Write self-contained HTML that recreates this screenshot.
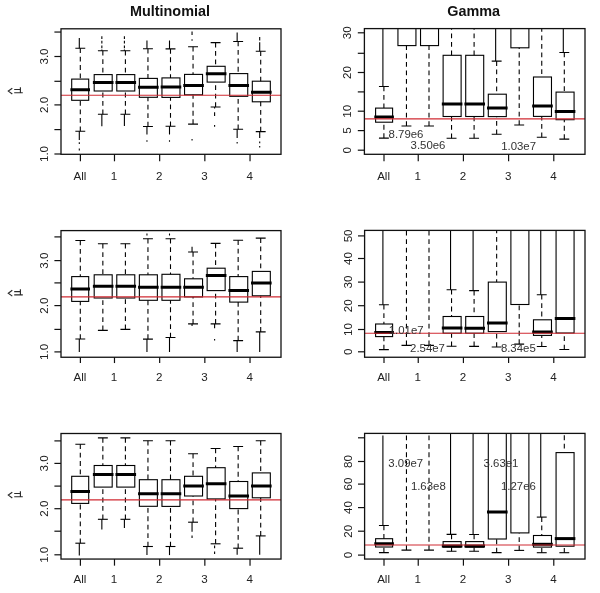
<!DOCTYPE html>
<html><head><meta charset="utf-8"><title>boxplots</title><style>
html,body{margin:0;padding:0;background:#fff;}
body{width:600px;height:593px;overflow:hidden;}
svg{display:block;will-change:transform;font-family:"Liberation Sans", sans-serif;}

.fr{fill:none;stroke:#111;stroke-width:1.3;}
.t{stroke:#111;stroke-width:1.2;}
.b{fill:none;stroke:#000;stroke-width:1.1;}
.m{stroke:#000;stroke-width:3;}
.k{stroke:#000;stroke-width:1.1;}
.w{stroke:#000;stroke-width:1.1;stroke-dasharray:4.8 3.65;}
.o{stroke:#000;stroke-width:1.1;}
.r{stroke:#d02a32;stroke-width:1.1;}
.yl{font-size:11.6px;fill:#222;text-anchor:middle;}
.xl{font-size:11.6px;fill:#222;text-anchor:middle;}
.an{font-size:11.4px;fill:#333;text-anchor:middle;}
.ti{font-size:14.4px;font-weight:bold;fill:#111;text-anchor:middle;}
.mu{font-size:12px;fill:#222;text-anchor:middle;}
.hat{fill:none;stroke:#2a2a2a;stroke-width:1.15;}
</style></head><body>
<svg width="600" height="593" viewBox="0 0 600 593"><defs><clipPath id="c0"><rect x="61" y="28.8" width="220" height="125.5"/></clipPath><clipPath id="c1"><rect x="364.4" y="28.6" width="220.6" height="125.7"/></clipPath><clipPath id="c2"><rect x="61" y="230.6" width="220" height="126.65"/></clipPath><clipPath id="c3"><rect x="364.6" y="230.4" width="220.4" height="126.85"/></clipPath><clipPath id="c4"><rect x="61" y="433.5" width="220" height="125.55"/></clipPath><clipPath id="c5"><rect x="364.6" y="433.4" width="220.4" height="125.65"/></clipPath></defs>
<g clip-path="url(#c0)"><line x1="79.3" y1="38.1" x2="79.3" y2="48.2" class="o"/><line x1="79.3" y1="131.2" x2="79.3" y2="140.1" class="o"/><line x1="79.3" y1="142.2" x2="79.3" y2="144" class="o"/><line x1="79.3" y1="148.6" x2="79.3" y2="150.4" class="o"/><line x1="80.3" y1="48.2" x2="80.3" y2="79.1" class="w"/><line x1="80.3" y1="131.2" x2="80.3" y2="100.3" class="w"/><line x1="75.35" y1="48.2" x2="85.25" y2="48.2" class="k"/><line x1="75.35" y1="131.2" x2="85.25" y2="131.2" class="k"/><rect x="71.7" y="79.1" width="17" height="21.2" class="b"/><line x1="70.4" y1="89.8" x2="90" y2="89.8" class="m"/><line x1="101.85" y1="36.3" x2="101.85" y2="39" class="o"/><line x1="101.85" y1="40.8" x2="101.85" y2="43.6" class="o"/><line x1="101.85" y1="45.4" x2="101.85" y2="48.2" class="o"/><line x1="101.85" y1="49.5" x2="101.85" y2="50.8" class="o"/><line x1="101.85" y1="114.3" x2="101.85" y2="126.3" class="o"/><line x1="102.85" y1="50.8" x2="102.85" y2="74.6" class="w"/><line x1="102.85" y1="114.3" x2="102.85" y2="91" class="w"/><line x1="97.9" y1="50.8" x2="107.8" y2="50.8" class="k"/><line x1="97.9" y1="114.3" x2="107.8" y2="114.3" class="k"/><rect x="94.19" y="74.6" width="18" height="16.4" class="b"/><line x1="92.89" y1="82.4" x2="113.49" y2="82.4" class="m"/><line x1="124.4" y1="36.3" x2="124.4" y2="39" class="o"/><line x1="124.4" y1="40.8" x2="124.4" y2="43.6" class="o"/><line x1="124.4" y1="45.4" x2="124.4" y2="48.2" class="o"/><line x1="124.4" y1="49.5" x2="124.4" y2="50.8" class="o"/><line x1="124.4" y1="114.3" x2="124.4" y2="126" class="o"/><line x1="125.4" y1="50.8" x2="125.4" y2="74.6" class="w"/><line x1="125.4" y1="114.3" x2="125.4" y2="91" class="w"/><line x1="120.45" y1="50.8" x2="130.35" y2="50.8" class="k"/><line x1="120.45" y1="114.3" x2="130.35" y2="114.3" class="k"/><rect x="116.78" y="74.6" width="18" height="16.4" class="b"/><line x1="115.48" y1="82.4" x2="136.08" y2="82.4" class="m"/><line x1="146.95" y1="40.5" x2="146.95" y2="48.7" class="o"/><line x1="146.95" y1="126.5" x2="146.95" y2="134.6" class="o"/><line x1="146.95" y1="140.2" x2="146.95" y2="141.8" class="o"/><line x1="147.95" y1="48.7" x2="147.95" y2="78.4" class="w"/><line x1="147.95" y1="126.5" x2="147.95" y2="97.3" class="w"/><line x1="143" y1="48.7" x2="152.9" y2="48.7" class="k"/><line x1="143" y1="126.5" x2="152.9" y2="126.5" class="k"/><rect x="139.37" y="78.4" width="18" height="18.9" class="b"/><line x1="138.07" y1="87.2" x2="158.67" y2="87.2" class="m"/><line x1="169.5" y1="40.5" x2="169.5" y2="48.9" class="o"/><line x1="169.5" y1="126.2" x2="169.5" y2="134.6" class="o"/><line x1="169.5" y1="140.2" x2="169.5" y2="141.8" class="o"/><line x1="170.5" y1="48.9" x2="170.5" y2="77.9" class="w"/><line x1="170.5" y1="126.2" x2="170.5" y2="97.4" class="w"/><line x1="165.55" y1="48.9" x2="175.45" y2="48.9" class="k"/><line x1="165.55" y1="126.2" x2="175.45" y2="126.2" class="k"/><rect x="161.96" y="77.9" width="18" height="19.5" class="b"/><line x1="160.66" y1="87.1" x2="181.26" y2="87.1" class="m"/><line x1="192.05" y1="31.5" x2="192.05" y2="35.1" class="o"/><line x1="192.05" y1="39.2" x2="192.05" y2="40.8" class="o"/><line x1="192.05" y1="139" x2="192.05" y2="140.6" class="o"/><line x1="193.05" y1="46.8" x2="193.05" y2="74.4" class="w"/><line x1="193.05" y1="124.1" x2="193.05" y2="94.8" class="w"/><line x1="188.1" y1="46.8" x2="198" y2="46.8" class="k"/><line x1="188.1" y1="124.1" x2="198" y2="124.1" class="k"/><rect x="184.55" y="74.4" width="18" height="20.4" class="b"/><line x1="183.25" y1="85.4" x2="203.85" y2="85.4" class="m"/><line x1="214.6" y1="107" x2="214.6" y2="108.5" class="o"/><line x1="214.6" y1="112.2" x2="214.6" y2="115.9" class="o"/><line x1="214.6" y1="125" x2="214.6" y2="126.7" class="o"/><line x1="215.6" y1="42.6" x2="215.6" y2="66.3" class="w"/><line x1="215.6" y1="107" x2="215.6" y2="82.1" class="w"/><line x1="210.65" y1="42.6" x2="220.55" y2="42.6" class="k"/><line x1="210.65" y1="107" x2="220.55" y2="107" class="k"/><rect x="207.14" y="66.3" width="18" height="15.8" class="b"/><line x1="205.84" y1="73.7" x2="226.44" y2="73.7" class="m"/><line x1="237.15" y1="32.4" x2="237.15" y2="41.5" class="o"/><line x1="237.15" y1="129.2" x2="237.15" y2="138" class="o"/><line x1="237.15" y1="142" x2="237.15" y2="143.6" class="o"/><line x1="238.15" y1="41.5" x2="238.15" y2="73.6" class="w"/><line x1="238.15" y1="129.2" x2="238.15" y2="96.3" class="w"/><line x1="233.2" y1="41.5" x2="243.1" y2="41.5" class="k"/><line x1="233.2" y1="129.2" x2="243.1" y2="129.2" class="k"/><rect x="229.73" y="73.6" width="18" height="22.7" class="b"/><line x1="228.43" y1="85.4" x2="249.03" y2="85.4" class="m"/><line x1="259.7" y1="37" x2="259.7" y2="40.5" class="o"/><line x1="259.7" y1="42.3" x2="259.7" y2="51.3" class="o"/><line x1="259.7" y1="131.6" x2="259.7" y2="138" class="o"/><line x1="259.7" y1="141.6" x2="259.7" y2="143.2" class="o"/><line x1="259.7" y1="146" x2="259.7" y2="147.6" class="o"/><line x1="260.7" y1="51.3" x2="260.7" y2="81.2" class="w"/><line x1="260.7" y1="131.6" x2="260.7" y2="101.8" class="w"/><line x1="255.75" y1="51.3" x2="265.65" y2="51.3" class="k"/><line x1="255.75" y1="131.6" x2="265.65" y2="131.6" class="k"/><rect x="252.32" y="81.2" width="18" height="20.6" class="b"/><line x1="251.02" y1="92.2" x2="271.62" y2="92.2" class="m"/></g>
<line x1="61" y1="95.2" x2="281" y2="95.2" class="r"/>
<rect x="61" y="28.8" width="220" height="125.5" class="fr"/>
<line x1="54.4" y1="154" x2="61" y2="154" class="t"/>
<text transform="translate(48 154) rotate(-90)" class="yl">1.0</text>
<line x1="54.4" y1="129.6" x2="61" y2="129.6" class="t"/>
<line x1="54.4" y1="104.9" x2="61" y2="104.9" class="t"/>
<text transform="translate(48 104.9) rotate(-90)" class="yl">2.0</text>
<line x1="54.4" y1="81.3" x2="61" y2="81.3" class="t"/>
<line x1="54.4" y1="56.5" x2="61" y2="56.5" class="t"/>
<text transform="translate(48 56.5) rotate(-90)" class="yl">3.0</text>
<line x1="54.4" y1="32.05" x2="61" y2="32.05" class="t"/>
<line x1="80.4" y1="154.3" x2="80.4" y2="161.3" class="t"/>
<text x="80" y="179.8" class="xl">All</text>
<line x1="114.48" y1="154.3" x2="114.48" y2="161.3" class="t"/>
<text x="114.08" y="179.8" class="xl">1</text>
<line x1="159.66" y1="154.3" x2="159.66" y2="161.3" class="t"/>
<text x="159.26" y="179.8" class="xl">2</text>
<line x1="204.84" y1="154.3" x2="204.84" y2="161.3" class="t"/>
<text x="204.44" y="179.8" class="xl">3</text>
<line x1="250.03" y1="154.3" x2="250.03" y2="161.3" class="t"/>
<text x="249.62" y="179.8" class="xl">4</text>
<text x="170" y="16.2" class="ti">Multinomial</text>
<g clip-path="url(#c1)"><line x1="382.9" y1="8.6" x2="382.9" y2="86.5" class="o"/><line x1="383.9" y1="86.5" x2="383.9" y2="108.1" class="w"/><line x1="383.9" y1="138.1" x2="383.9" y2="122.2" class="w"/><line x1="378.95" y1="86.5" x2="388.85" y2="86.5" class="k"/><line x1="378.95" y1="138.1" x2="388.85" y2="138.1" class="k"/><rect x="375.6" y="108.1" width="17" height="14.1" class="b"/><line x1="374.3" y1="116.9" x2="393.9" y2="116.9" class="m"/><line x1="406.45" y1="126" x2="406.45" y2="45.6" class="w"/><line x1="401.5" y1="126" x2="411.4" y2="126" class="k"/><rect x="397.94" y="8.6" width="18" height="37" class="b"/><line x1="429" y1="126" x2="429" y2="45.6" class="w"/><line x1="424.05" y1="126" x2="433.95" y2="126" class="k"/><rect x="420.53" y="8.6" width="18" height="37" class="b"/><line x1="451.55" y1="16.6" x2="451.55" y2="55.3" class="w"/><line x1="451.55" y1="138.2" x2="451.55" y2="116.5" class="w"/><line x1="446.6" y1="138.2" x2="456.5" y2="138.2" class="k"/><rect x="443.12" y="55.3" width="18" height="61.2" class="b"/><line x1="441.82" y1="104" x2="462.42" y2="104" class="m"/><line x1="474.1" y1="16.6" x2="474.1" y2="55.3" class="w"/><line x1="474.1" y1="138.2" x2="474.1" y2="116.5" class="w"/><line x1="469.15" y1="138.2" x2="479.05" y2="138.2" class="k"/><rect x="465.71" y="55.3" width="18" height="61.2" class="b"/><line x1="464.41" y1="104" x2="485.01" y2="104" class="m"/><line x1="495.65" y1="8.6" x2="495.65" y2="61.1" class="o"/><line x1="496.65" y1="61.1" x2="496.65" y2="94.2" class="w"/><line x1="496.65" y1="134.2" x2="496.65" y2="116.6" class="w"/><line x1="491.7" y1="61.1" x2="501.6" y2="61.1" class="k"/><line x1="491.7" y1="134.2" x2="501.6" y2="134.2" class="k"/><rect x="488.3" y="94.2" width="18" height="22.4" class="b"/><line x1="487" y1="108.1" x2="507.6" y2="108.1" class="m"/><line x1="519.2" y1="125" x2="519.2" y2="47.8" class="w"/><line x1="514.25" y1="125" x2="524.15" y2="125" class="k"/><rect x="510.89" y="8.6" width="18" height="39.2" class="b"/><line x1="541.75" y1="18.6" x2="541.75" y2="77" class="w"/><line x1="541.75" y1="137.3" x2="541.75" y2="116.4" class="w"/><line x1="536.8" y1="137.3" x2="546.7" y2="137.3" class="k"/><rect x="533.48" y="77" width="18" height="39.4" class="b"/><line x1="532.18" y1="106" x2="552.78" y2="106" class="m"/><line x1="563.3" y1="8.6" x2="563.3" y2="52.5" class="o"/><line x1="564.3" y1="52.5" x2="564.3" y2="92.1" class="w"/><line x1="564.3" y1="139.1" x2="564.3" y2="119.7" class="w"/><line x1="559.35" y1="52.5" x2="569.25" y2="52.5" class="k"/><line x1="559.35" y1="139.1" x2="569.25" y2="139.1" class="k"/><rect x="556.07" y="92.1" width="18" height="27.6" class="b"/><line x1="554.77" y1="111.5" x2="575.37" y2="111.5" class="m"/></g>
<line x1="364.4" y1="118.9" x2="585" y2="118.9" class="r"/>
<rect x="364.4" y="28.6" width="220.6" height="125.7" class="fr"/>
<line x1="357.8" y1="150.2" x2="364.4" y2="150.2" class="t"/>
<text transform="translate(351.4 150.2) rotate(-90)" class="yl">0</text>
<line x1="357.8" y1="130.6" x2="364.4" y2="130.6" class="t"/>
<text transform="translate(351.4 130.6) rotate(-90)" class="yl">5</text>
<line x1="357.8" y1="111.2" x2="364.4" y2="111.2" class="t"/>
<text transform="translate(351.4 111.2) rotate(-90)" class="yl">10</text>
<line x1="357.8" y1="91.9" x2="364.4" y2="91.9" class="t"/>
<line x1="357.8" y1="72.5" x2="364.4" y2="72.5" class="t"/>
<text transform="translate(351.4 72.5) rotate(-90)" class="yl">20</text>
<line x1="357.8" y1="53.3" x2="364.4" y2="53.3" class="t"/>
<line x1="357.8" y1="32.8" x2="364.4" y2="32.8" class="t"/>
<text transform="translate(351.4 32.8) rotate(-90)" class="yl">30</text>
<line x1="384" y1="154.3" x2="384" y2="161.3" class="t"/>
<text x="383.6" y="179.8" class="xl">All</text>
<line x1="418.24" y1="154.3" x2="418.24" y2="161.3" class="t"/>
<text x="417.84" y="179.8" class="xl">1</text>
<line x1="463.42" y1="154.3" x2="463.42" y2="161.3" class="t"/>
<text x="463.02" y="179.8" class="xl">2</text>
<line x1="508.6" y1="154.3" x2="508.6" y2="161.3" class="t"/>
<text x="508.2" y="179.8" class="xl">3</text>
<line x1="553.78" y1="154.3" x2="553.78" y2="161.3" class="t"/>
<text x="553.38" y="179.8" class="xl">4</text>
<text x="406" y="137.75" class="an">8.79e6</text>
<text x="428" y="149.3" class="an">3.50e6</text>
<text x="518.6" y="150" class="an">1.03e7</text>
<text x="473.7" y="16.2" class="ti">Gamma</text>
<g clip-path="url(#c2)"><line x1="79.3" y1="339" x2="79.3" y2="352" class="o"/><line x1="80.3" y1="240.5" x2="80.3" y2="276.6" class="w"/><line x1="80.3" y1="339" x2="80.3" y2="301.4" class="w"/><line x1="75.35" y1="240.5" x2="85.25" y2="240.5" class="k"/><line x1="75.35" y1="339" x2="85.25" y2="339" class="k"/><rect x="71.7" y="276.6" width="17" height="24.8" class="b"/><line x1="70.4" y1="289" x2="90" y2="289" class="m"/><line x1="102.85" y1="243.8" x2="102.85" y2="274.8" class="w"/><line x1="102.85" y1="330.4" x2="102.85" y2="298" class="w"/><line x1="97.9" y1="243.8" x2="107.8" y2="243.8" class="k"/><line x1="97.9" y1="330.4" x2="107.8" y2="330.4" class="k"/><rect x="94.19" y="274.8" width="18" height="23.2" class="b"/><line x1="92.89" y1="286.3" x2="113.49" y2="286.3" class="m"/><line x1="125.4" y1="243.8" x2="125.4" y2="274.8" class="w"/><line x1="125.4" y1="329.4" x2="125.4" y2="298" class="w"/><line x1="120.45" y1="243.8" x2="130.35" y2="243.8" class="k"/><line x1="120.45" y1="329.4" x2="130.35" y2="329.4" class="k"/><rect x="116.78" y="274.8" width="18" height="23.2" class="b"/><line x1="115.48" y1="286.3" x2="136.08" y2="286.3" class="m"/><line x1="146.95" y1="233.5" x2="146.95" y2="235.6" class="o"/><line x1="146.95" y1="339.1" x2="146.95" y2="352" class="o"/><line x1="147.95" y1="238.8" x2="147.95" y2="274.8" class="w"/><line x1="147.95" y1="339.1" x2="147.95" y2="300.3" class="w"/><line x1="143" y1="238.8" x2="152.9" y2="238.8" class="k"/><line x1="143" y1="339.1" x2="152.9" y2="339.1" class="k"/><rect x="139.37" y="274.8" width="18" height="25.5" class="b"/><line x1="138.07" y1="287.2" x2="158.67" y2="287.2" class="m"/><line x1="169.5" y1="233.5" x2="169.5" y2="235.6" class="o"/><line x1="169.5" y1="337.5" x2="169.5" y2="352" class="o"/><line x1="170.5" y1="238.8" x2="170.5" y2="274.3" class="w"/><line x1="170.5" y1="337.5" x2="170.5" y2="300.3" class="w"/><line x1="165.55" y1="238.8" x2="175.45" y2="238.8" class="k"/><line x1="165.55" y1="337.5" x2="175.45" y2="337.5" class="k"/><rect x="161.96" y="274.3" width="18" height="26" class="b"/><line x1="160.66" y1="287.2" x2="181.26" y2="287.2" class="m"/><line x1="192.05" y1="246.8" x2="192.05" y2="252" class="o"/><line x1="192.05" y1="323.9" x2="192.05" y2="326" class="o"/><line x1="193.05" y1="252" x2="193.05" y2="278.8" class="w"/><line x1="193.05" y1="323.9" x2="193.05" y2="296.9" class="w"/><line x1="188.1" y1="252" x2="198" y2="252" class="k"/><line x1="188.1" y1="323.9" x2="198" y2="323.9" class="k"/><rect x="184.55" y="278.8" width="18" height="18.1" class="b"/><line x1="183.25" y1="287.2" x2="203.85" y2="287.2" class="m"/><line x1="214.6" y1="323.9" x2="214.6" y2="328.2" class="o"/><line x1="214.6" y1="338.9" x2="214.6" y2="340.5" class="o"/><line x1="215.6" y1="243.4" x2="215.6" y2="268.2" class="w"/><line x1="215.6" y1="323.9" x2="215.6" y2="290.6" class="w"/><line x1="210.65" y1="243.4" x2="220.55" y2="243.4" class="k"/><line x1="210.65" y1="323.9" x2="220.55" y2="323.9" class="k"/><rect x="207.14" y="268.2" width="18" height="22.4" class="b"/><line x1="205.84" y1="275.4" x2="226.44" y2="275.4" class="m"/><line x1="237.15" y1="340.6" x2="237.15" y2="351.9" class="o"/><line x1="238.15" y1="240.2" x2="238.15" y2="276.6" class="w"/><line x1="238.15" y1="340.6" x2="238.15" y2="302.1" class="w"/><line x1="233.2" y1="240.2" x2="243.1" y2="240.2" class="k"/><line x1="233.2" y1="340.6" x2="243.1" y2="340.6" class="k"/><rect x="229.73" y="276.6" width="18" height="25.5" class="b"/><line x1="228.43" y1="290.6" x2="249.03" y2="290.6" class="m"/><line x1="259.7" y1="331.9" x2="259.7" y2="351.9" class="o"/><line x1="260.7" y1="238.1" x2="260.7" y2="271.4" class="w"/><line x1="260.7" y1="331.9" x2="260.7" y2="295.8" class="w"/><line x1="255.75" y1="238.1" x2="265.65" y2="238.1" class="k"/><line x1="255.75" y1="331.9" x2="265.65" y2="331.9" class="k"/><rect x="252.32" y="271.4" width="18" height="24.4" class="b"/><line x1="251.02" y1="282.9" x2="271.62" y2="282.9" class="m"/></g>
<line x1="61" y1="296.9" x2="281" y2="296.9" class="r"/>
<rect x="61" y="230.6" width="220" height="126.65" class="fr"/>
<line x1="54.4" y1="351.9" x2="61" y2="351.9" class="t"/>
<text transform="translate(48 351.9) rotate(-90)" class="yl">1.0</text>
<line x1="54.4" y1="329.4" x2="61" y2="329.4" class="t"/>
<line x1="54.4" y1="305.6" x2="61" y2="305.6" class="t"/>
<text transform="translate(48 305.6) rotate(-90)" class="yl">2.0</text>
<line x1="54.4" y1="282.9" x2="61" y2="282.9" class="t"/>
<line x1="54.4" y1="260.6" x2="61" y2="260.6" class="t"/>
<text transform="translate(48 260.6) rotate(-90)" class="yl">3.0</text>
<line x1="54.4" y1="236.9" x2="61" y2="236.9" class="t"/>
<line x1="80.4" y1="357.25" x2="80.4" y2="363.05" class="t"/>
<text x="80" y="381.1" class="xl">All</text>
<line x1="114.48" y1="357.25" x2="114.48" y2="363.05" class="t"/>
<text x="114.08" y="381.1" class="xl">1</text>
<line x1="159.66" y1="357.25" x2="159.66" y2="363.05" class="t"/>
<text x="159.26" y="381.1" class="xl">2</text>
<line x1="204.84" y1="357.25" x2="204.84" y2="363.05" class="t"/>
<text x="204.44" y="381.1" class="xl">3</text>
<line x1="250.03" y1="357.25" x2="250.03" y2="363.05" class="t"/>
<text x="249.62" y="381.1" class="xl">4</text>
<g clip-path="url(#c3)"><line x1="382.9" y1="210.4" x2="382.9" y2="304.8" class="o"/><line x1="383.9" y1="304.8" x2="383.9" y2="324" class="w"/><line x1="383.9" y1="349.6" x2="383.9" y2="336.6" class="w"/><line x1="378.95" y1="304.8" x2="388.85" y2="304.8" class="k"/><line x1="378.95" y1="349.6" x2="388.85" y2="349.6" class="k"/><rect x="375.6" y="324" width="17" height="12.6" class="b"/><line x1="374.3" y1="332.5" x2="393.9" y2="332.5" class="m"/><line x1="406.45" y1="345.4" x2="406.45" y2="210.4" class="w"/><line x1="401.5" y1="345.4" x2="411.4" y2="345.4" class="k"/><line x1="429" y1="345.4" x2="429" y2="210.4" class="w"/><line x1="424.05" y1="345.4" x2="433.95" y2="345.4" class="k"/><line x1="450.55" y1="210.4" x2="450.55" y2="289.7" class="o"/><line x1="451.55" y1="289.7" x2="451.55" y2="316.5" class="w"/><line x1="451.55" y1="346.3" x2="451.55" y2="333.2" class="w"/><line x1="446.6" y1="289.7" x2="456.5" y2="289.7" class="k"/><line x1="446.6" y1="346.3" x2="456.5" y2="346.3" class="k"/><rect x="443.12" y="316.5" width="18" height="16.7" class="b"/><line x1="441.82" y1="328.1" x2="462.42" y2="328.1" class="m"/><line x1="473.1" y1="210.4" x2="473.1" y2="290.6" class="o"/><line x1="474.1" y1="290.6" x2="474.1" y2="316.5" class="w"/><line x1="474.1" y1="346.4" x2="474.1" y2="333.2" class="w"/><line x1="469.15" y1="290.6" x2="479.05" y2="290.6" class="k"/><line x1="469.15" y1="346.4" x2="479.05" y2="346.4" class="k"/><rect x="465.71" y="316.5" width="18" height="16.7" class="b"/><line x1="464.41" y1="328.3" x2="485.01" y2="328.3" class="m"/><line x1="496.65" y1="220" x2="496.65" y2="282.1" class="w"/><line x1="496.65" y1="347" x2="496.65" y2="331.6" class="w"/><line x1="491.7" y1="347" x2="501.6" y2="347" class="k"/><rect x="488.3" y="282.1" width="18" height="49.5" class="b"/><line x1="487" y1="322.9" x2="507.6" y2="322.9" class="m"/><line x1="519.2" y1="344.1" x2="519.2" y2="304.5" class="w"/><line x1="514.25" y1="344.1" x2="524.15" y2="344.1" class="k"/><rect x="510.89" y="210.4" width="18" height="94.1" class="b"/><line x1="540.75" y1="210.4" x2="540.75" y2="294.7" class="o"/><line x1="541.75" y1="294.7" x2="541.75" y2="319.8" class="w"/><line x1="541.75" y1="346.5" x2="541.75" y2="335.4" class="w"/><line x1="536.8" y1="294.7" x2="546.7" y2="294.7" class="k"/><line x1="536.8" y1="346.5" x2="546.7" y2="346.5" class="k"/><rect x="533.48" y="319.8" width="18" height="15.6" class="b"/><line x1="532.18" y1="331.9" x2="552.78" y2="331.9" class="m"/><line x1="564.3" y1="349.5" x2="564.3" y2="333" class="w"/><line x1="559.35" y1="349.5" x2="569.25" y2="349.5" class="k"/><rect x="556.07" y="210.4" width="18" height="122.6" class="b"/><line x1="554.77" y1="318.5" x2="575.37" y2="318.5" class="m"/></g>
<line x1="364.6" y1="333.2" x2="585" y2="333.2" class="r"/>
<rect x="364.6" y="230.4" width="220.4" height="126.85" class="fr"/>
<line x1="358" y1="351.8" x2="364.6" y2="351.8" class="t"/>
<text transform="translate(351.6 351.8) rotate(-90)" class="yl">0</text>
<line x1="358" y1="329.5" x2="364.6" y2="329.5" class="t"/>
<text transform="translate(351.6 329.5) rotate(-90)" class="yl">10</text>
<line x1="358" y1="305.7" x2="364.6" y2="305.7" class="t"/>
<text transform="translate(351.6 305.7) rotate(-90)" class="yl">20</text>
<line x1="358" y1="282.1" x2="364.6" y2="282.1" class="t"/>
<text transform="translate(351.6 282.1) rotate(-90)" class="yl">30</text>
<line x1="358" y1="258.5" x2="364.6" y2="258.5" class="t"/>
<text transform="translate(351.6 258.5) rotate(-90)" class="yl">40</text>
<line x1="358" y1="235.9" x2="364.6" y2="235.9" class="t"/>
<text transform="translate(351.6 235.9) rotate(-90)" class="yl">50</text>
<line x1="384" y1="357.25" x2="384" y2="363.05" class="t"/>
<text x="383.6" y="381.1" class="xl">All</text>
<line x1="418.24" y1="357.25" x2="418.24" y2="363.05" class="t"/>
<text x="417.84" y="381.1" class="xl">1</text>
<line x1="463.42" y1="357.25" x2="463.42" y2="363.05" class="t"/>
<text x="463.02" y="381.1" class="xl">2</text>
<line x1="508.6" y1="357.25" x2="508.6" y2="363.05" class="t"/>
<text x="508.2" y="381.1" class="xl">3</text>
<line x1="553.78" y1="357.25" x2="553.78" y2="363.05" class="t"/>
<text x="553.38" y="381.1" class="xl">4</text>
<text x="406.2" y="334.1" class="an">1.01e7</text>
<text x="427.5" y="352.2" class="an">2.54e7</text>
<text x="518.3" y="351.9" class="an">8.34e5</text>
<g clip-path="url(#c4)"><line x1="79.3" y1="543.2" x2="79.3" y2="555.5" class="o"/><line x1="80.3" y1="444.2" x2="80.3" y2="476.3" class="w"/><line x1="80.3" y1="543.2" x2="80.3" y2="503.4" class="w"/><line x1="75.35" y1="444.2" x2="85.25" y2="444.2" class="k"/><line x1="75.35" y1="543.2" x2="85.25" y2="543.2" class="k"/><rect x="71.7" y="476.3" width="17" height="27.1" class="b"/><line x1="70.4" y1="491.5" x2="90" y2="491.5" class="m"/><line x1="101.85" y1="519.3" x2="101.85" y2="529.4" class="o"/><line x1="102.85" y1="437.9" x2="102.85" y2="465.5" class="w"/><line x1="102.85" y1="519.3" x2="102.85" y2="487.1" class="w"/><line x1="97.9" y1="437.9" x2="107.8" y2="437.9" class="k"/><line x1="97.9" y1="519.3" x2="107.8" y2="519.3" class="k"/><rect x="94.19" y="465.5" width="18" height="21.6" class="b"/><line x1="92.89" y1="474.5" x2="113.49" y2="474.5" class="m"/><line x1="124.4" y1="519.3" x2="124.4" y2="528.1" class="o"/><line x1="125.4" y1="437.9" x2="125.4" y2="465.5" class="w"/><line x1="125.4" y1="519.3" x2="125.4" y2="487.1" class="w"/><line x1="120.45" y1="437.9" x2="130.35" y2="437.9" class="k"/><line x1="120.45" y1="519.3" x2="130.35" y2="519.3" class="k"/><rect x="116.78" y="465.5" width="18" height="21.6" class="b"/><line x1="115.48" y1="474.5" x2="136.08" y2="474.5" class="m"/><line x1="146.95" y1="546.5" x2="146.95" y2="555.1" class="o"/><line x1="147.95" y1="440.8" x2="147.95" y2="479.7" class="w"/><line x1="147.95" y1="546.5" x2="147.95" y2="506.3" class="w"/><line x1="143" y1="440.8" x2="152.9" y2="440.8" class="k"/><line x1="143" y1="546.5" x2="152.9" y2="546.5" class="k"/><rect x="139.37" y="479.7" width="18" height="26.6" class="b"/><line x1="138.07" y1="493.7" x2="158.67" y2="493.7" class="m"/><line x1="169.5" y1="546.5" x2="169.5" y2="555.1" class="o"/><line x1="170.5" y1="440.8" x2="170.5" y2="479.7" class="w"/><line x1="170.5" y1="546.5" x2="170.5" y2="506.4" class="w"/><line x1="165.55" y1="440.8" x2="175.45" y2="440.8" class="k"/><line x1="165.55" y1="546.5" x2="175.45" y2="546.5" class="k"/><rect x="161.96" y="479.7" width="18" height="26.7" class="b"/><line x1="160.66" y1="493.7" x2="181.26" y2="493.7" class="m"/><line x1="192.05" y1="522.2" x2="192.05" y2="531.8" class="o"/><line x1="192.05" y1="535.5" x2="192.05" y2="538" class="o"/><line x1="193.05" y1="453.7" x2="193.05" y2="476.3" class="w"/><line x1="193.05" y1="522.2" x2="193.05" y2="496" class="w"/><line x1="188.1" y1="453.7" x2="198" y2="453.7" class="k"/><line x1="188.1" y1="522.2" x2="198" y2="522.2" class="k"/><rect x="184.55" y="476.3" width="18" height="19.7" class="b"/><line x1="183.25" y1="486" x2="203.85" y2="486" class="m"/><line x1="214.6" y1="545.6" x2="214.6" y2="548.2" class="o"/><line x1="214.6" y1="551.5" x2="214.6" y2="554" class="o"/><line x1="215.6" y1="448.5" x2="215.6" y2="467.7" class="w"/><line x1="215.6" y1="543.8" x2="215.6" y2="498.9" class="w"/><line x1="210.65" y1="448.5" x2="220.55" y2="448.5" class="k"/><line x1="210.65" y1="543.8" x2="220.55" y2="543.8" class="k"/><rect x="207.14" y="467.7" width="18" height="31.2" class="b"/><line x1="205.84" y1="483.8" x2="226.44" y2="483.8" class="m"/><line x1="237.15" y1="548.2" x2="237.15" y2="554.8" class="o"/><line x1="238.15" y1="446.5" x2="238.15" y2="481.5" class="w"/><line x1="238.15" y1="548.2" x2="238.15" y2="508.6" class="w"/><line x1="233.2" y1="446.5" x2="243.1" y2="446.5" class="k"/><line x1="233.2" y1="548.2" x2="243.1" y2="548.2" class="k"/><rect x="229.73" y="481.5" width="18" height="27.1" class="b"/><line x1="228.43" y1="496" x2="249.03" y2="496" class="m"/><line x1="259.7" y1="535.9" x2="259.7" y2="554.8" class="o"/><line x1="260.7" y1="440.8" x2="260.7" y2="472.9" class="w"/><line x1="260.7" y1="535.9" x2="260.7" y2="497.8" class="w"/><line x1="255.75" y1="440.8" x2="265.65" y2="440.8" class="k"/><line x1="255.75" y1="535.9" x2="265.65" y2="535.9" class="k"/><rect x="252.32" y="472.9" width="18" height="24.9" class="b"/><line x1="251.02" y1="486" x2="271.62" y2="486" class="m"/></g>
<line x1="61" y1="499.9" x2="281" y2="499.9" class="r"/>
<rect x="61" y="433.5" width="220" height="125.55" class="fr"/>
<line x1="54.4" y1="554.8" x2="61" y2="554.8" class="t"/>
<text transform="translate(48 554.8) rotate(-90)" class="yl">1.0</text>
<line x1="54.4" y1="531.2" x2="61" y2="531.2" class="t"/>
<line x1="54.4" y1="508.7" x2="61" y2="508.7" class="t"/>
<text transform="translate(48 508.7) rotate(-90)" class="yl">2.0</text>
<line x1="54.4" y1="486.1" x2="61" y2="486.1" class="t"/>
<line x1="54.4" y1="463.4" x2="61" y2="463.4" class="t"/>
<text transform="translate(48 463.4) rotate(-90)" class="yl">3.0</text>
<line x1="54.4" y1="440.9" x2="61" y2="440.9" class="t"/>
<line x1="80.4" y1="559.05" x2="80.4" y2="565.65" class="t"/>
<text x="80" y="583.3" class="xl">All</text>
<line x1="114.48" y1="559.05" x2="114.48" y2="565.65" class="t"/>
<text x="114.08" y="583.3" class="xl">1</text>
<line x1="159.66" y1="559.05" x2="159.66" y2="565.65" class="t"/>
<text x="159.26" y="583.3" class="xl">2</text>
<line x1="204.84" y1="559.05" x2="204.84" y2="565.65" class="t"/>
<text x="204.44" y="583.3" class="xl">3</text>
<line x1="250.03" y1="559.05" x2="250.03" y2="565.65" class="t"/>
<text x="249.62" y="583.3" class="xl">4</text>
<g clip-path="url(#c5)"><line x1="382.9" y1="435.6" x2="382.9" y2="525.5" class="o"/><line x1="383.9" y1="525.5" x2="383.9" y2="538.7" class="w"/><line x1="383.9" y1="552.6" x2="383.9" y2="547" class="w"/><line x1="378.95" y1="525.5" x2="388.85" y2="525.5" class="k"/><line x1="378.95" y1="552.6" x2="388.85" y2="552.6" class="k"/><rect x="375.6" y="538.7" width="17" height="8.3" class="b"/><line x1="374.3" y1="543.7" x2="393.9" y2="543.7" class="m"/><line x1="406.45" y1="550.1" x2="406.45" y2="413.4" class="w"/><line x1="401.5" y1="550.1" x2="411.4" y2="550.1" class="k"/><line x1="429" y1="550.1" x2="429" y2="413.4" class="w"/><line x1="424.05" y1="550.1" x2="433.95" y2="550.1" class="k"/><line x1="450.55" y1="413.4" x2="450.55" y2="534.4" class="o"/><line x1="451.55" y1="534.4" x2="451.55" y2="541.6" class="w"/><line x1="451.55" y1="551.2" x2="451.55" y2="547.2" class="w"/><line x1="446.6" y1="534.4" x2="456.5" y2="534.4" class="k"/><line x1="446.6" y1="551.2" x2="456.5" y2="551.2" class="k"/><rect x="443.12" y="541.6" width="18" height="5.6" class="b"/><line x1="441.82" y1="546" x2="462.42" y2="546" class="m"/><line x1="473.1" y1="413.4" x2="473.1" y2="534.5" class="o"/><line x1="474.1" y1="534.5" x2="474.1" y2="541.6" class="w"/><line x1="474.1" y1="551.3" x2="474.1" y2="547.2" class="w"/><line x1="469.15" y1="534.5" x2="479.05" y2="534.5" class="k"/><line x1="469.15" y1="551.3" x2="479.05" y2="551.3" class="k"/><rect x="465.71" y="541.6" width="18" height="5.6" class="b"/><line x1="464.41" y1="546" x2="485.01" y2="546" class="m"/><line x1="496.65" y1="552.6" x2="496.65" y2="539" class="w"/><line x1="491.7" y1="552.6" x2="501.6" y2="552.6" class="k"/><rect x="488.3" y="413.4" width="18" height="125.6" class="b"/><line x1="487" y1="511.9" x2="507.6" y2="511.9" class="m"/><line x1="519.2" y1="550.4" x2="519.2" y2="532.9" class="w"/><line x1="514.25" y1="550.4" x2="524.15" y2="550.4" class="k"/><rect x="510.89" y="413.4" width="18" height="119.5" class="b"/><line x1="540.75" y1="413.4" x2="540.75" y2="517.1" class="o"/><line x1="541.75" y1="517.1" x2="541.75" y2="535.5" class="w"/><line x1="541.75" y1="552.7" x2="541.75" y2="547.1" class="w"/><line x1="536.8" y1="517.1" x2="546.7" y2="517.1" class="k"/><line x1="536.8" y1="552.7" x2="546.7" y2="552.7" class="k"/><rect x="533.48" y="535.5" width="18" height="11.6" class="b"/><line x1="532.18" y1="544.3" x2="552.78" y2="544.3" class="m"/><line x1="564.3" y1="410" x2="564.3" y2="452.6" class="w"/><line x1="564.3" y1="552.7" x2="564.3" y2="546.2" class="w"/><line x1="559.35" y1="552.7" x2="569.25" y2="552.7" class="k"/><rect x="556.07" y="452.6" width="18" height="93.6" class="b"/><line x1="554.77" y1="538.6" x2="575.37" y2="538.6" class="m"/></g>
<line x1="364.6" y1="545" x2="585" y2="545" class="r"/>
<rect x="364.6" y="433.4" width="220.4" height="125.65" class="fr"/>
<line x1="358" y1="555.1" x2="364.6" y2="555.1" class="t"/>
<text transform="translate(351.6 555.1) rotate(-90)" class="yl">0</text>
<line x1="358" y1="531.2" x2="364.6" y2="531.2" class="t"/>
<text transform="translate(351.6 531.2) rotate(-90)" class="yl">20</text>
<line x1="358" y1="507.6" x2="364.6" y2="507.6" class="t"/>
<text transform="translate(351.6 507.6) rotate(-90)" class="yl">40</text>
<line x1="358" y1="484.1" x2="364.6" y2="484.1" class="t"/>
<text transform="translate(351.6 484.1) rotate(-90)" class="yl">60</text>
<line x1="358" y1="461.5" x2="364.6" y2="461.5" class="t"/>
<text transform="translate(351.6 461.5) rotate(-90)" class="yl">80</text>
<line x1="358" y1="437.8" x2="364.6" y2="437.8" class="t"/>
<line x1="384" y1="559.05" x2="384" y2="565.65" class="t"/>
<text x="383.6" y="583.3" class="xl">All</text>
<line x1="418.24" y1="559.05" x2="418.24" y2="565.65" class="t"/>
<text x="417.84" y="583.3" class="xl">1</text>
<line x1="463.42" y1="559.05" x2="463.42" y2="565.65" class="t"/>
<text x="463.02" y="583.3" class="xl">2</text>
<line x1="508.6" y1="559.05" x2="508.6" y2="565.65" class="t"/>
<text x="508.2" y="583.3" class="xl">3</text>
<line x1="553.78" y1="559.05" x2="553.78" y2="565.65" class="t"/>
<text x="553.38" y="583.3" class="xl">4</text>
<text x="405.75" y="466.6" class="an">3.09e7</text>
<text x="428.3" y="489.8" class="an">1.63e8</text>
<text x="501" y="466.6" class="an">3.63e1</text>
<text x="518.4" y="490" class="an">1.27e6</text>
<path d="M14.2 89.5 H20.4 M14.2 92.7 H22.8 M20.4 87.2 V92.7" class="hat"/>
<polyline points="12.3,88.2 8.3,91.1 12.3,94" class="hat"/>
<path d="M14.2 291.6 H20.4 M14.2 294.8 H22.8 M20.4 289.3 V294.8" class="hat"/>
<polyline points="12.3,290.3 8.3,293.2 12.3,296.1" class="hat"/>
<path d="M14.2 493.5 H20.4 M14.2 496.7 H22.8 M20.4 491.2 V496.7" class="hat"/>
<polyline points="12.3,492.2 8.3,495.1 12.3,498" class="hat"/>
</svg>
</body></html>
